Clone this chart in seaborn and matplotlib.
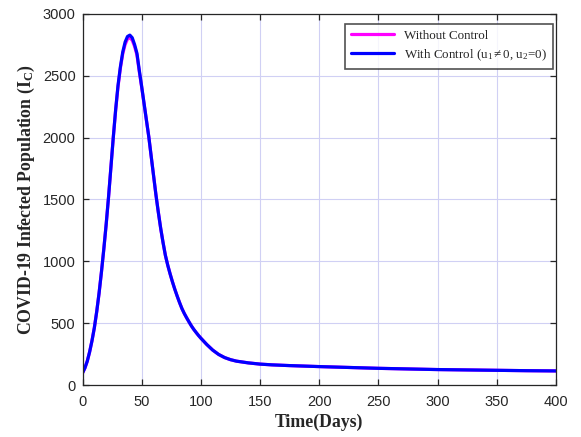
import matplotlib
matplotlib.use("Agg")
import matplotlib.pyplot as plt
import seaborn as sns
import pandas as pd

# data
days = [0, 2, 4, 6, 8, 10, 12, 14, 16, 18, 20, 22, 24, 26, 28, 30, 32, 34, 36, 38, 40,
        42, 44, 46, 48, 50, 52, 54, 56, 58, 60, 62, 64, 66, 68, 70, 72, 74, 76, 78, 80,
        82, 84, 86, 88, 90, 92, 94, 96, 98, 100, 105, 110, 115, 120, 125, 130, 140, 150,
        160, 175, 200, 225, 250, 275, 300, 325, 350, 375, 400]
with_control = [100, 140, 195, 270, 360, 465, 595, 745, 915, 1100, 1300, 1520, 1760, 2000, 2225, 2420, 2570, 2690, 2770, 2815, 2826,
                2805, 2750, 2679, 2540, 2410, 2275, 2140, 2006, 1850, 1695, 1540, 1400, 1270, 1155, 1050, 970, 900, 835, 775, 720,
                668, 620, 580, 545, 512, 480, 452, 427, 403, 381, 330, 285, 250, 225, 208, 196, 182, 172,
                166, 160, 152, 145, 138, 133, 128, 125, 122, 119, 117]
without_control = [100, 140, 195, 270, 360, 465, 595, 745, 915, 1100, 1300, 1520, 1760, 2000, 2220, 2410, 2560, 2675, 2750, 2795, 2805,
                   2785, 2735, 2665, 2530, 2405, 2272, 2138, 2005, 1850, 1695, 1540, 1400, 1270, 1155, 1050, 970, 900, 835, 775, 720,
                   668, 620, 580, 545, 512, 480, 452, 427, 403, 381, 330, 285, 250, 225, 208, 196, 182, 172,
                   166, 160, 152, 145, 138, 133, 128, 125, 122, 119, 117]
series_names = ["Without Control", r"With Control (u$_1$$\neq$0, u$_2$=0)"]
x_ticks = [0, 50, 100, 150, 200, 250, 300, 350, 400]
y_ticks = [0, 500, 1000, 1500, 2000, 2500, 3000]

sns.set_style("ticks")
plt.rcParams.update({
    "font.family": ["Liberation Sans", "DejaVu Sans"],
    "mathtext.fontset": "custom",
    "mathtext.rm": "Liberation Serif",
    "mathtext.it": "Liberation Serif:italic",
    "mathtext.bf": "Liberation Serif:bold",
    "xtick.direction": "in",
    "ytick.direction": "in",
})

df = pd.concat([
    pd.DataFrame({"Days": days, "Ic": without_control, "Case": series_names[0]}),
    pd.DataFrame({"Days": days, "Ic": with_control, "Case": series_names[1]}),
])

fig = plt.figure(figsize=(5.81, 4.37), dpi=100)
ax = fig.add_axes([0.142, 0.118, 0.815, 0.851])

sns.lineplot(data=df, x="Days", y="Ic", hue="Case",
             palette={series_names[0]: "#ff00ff", series_names[1]: "#0000ff"},
             linewidth=2.3, ax=ax, sort=False, estimator=None)

ax.set_xlim(0, 400)
ax.set_ylim(0, 3000)
ax.set_xticks(x_ticks)
ax.set_yticks(y_ticks)
ax.tick_params(axis="both", labelsize=10.5, length=4, width=0.9, color="#262626",
               top=True, right=True, labelcolor="#262626")
ax.tick_params(axis="x", pad=7)
ax.tick_params(axis="y", pad=5)
ax.grid(True, color="#d0d0f4", linewidth=0.8)
for s in ax.spines.values():
    s.set_visible(True)
    s.set_color("#262626")
    s.set_linewidth(0.9)

ax.set_xlabel("Time(Days)", family="Liberation Serif", fontweight="bold", fontsize=12.8, labelpad=3)
ax.set_ylabel(r"COVID-19 Infected Population (I$_\mathbf{C}$)", family="Liberation Serif",
              fontweight="bold", fontsize=12.8, labelpad=4)

leg = ax.legend(loc="upper right", bbox_to_anchor=(0.9937, 0.972), borderaxespad=0,
                prop={"family": "Liberation Serif", "size": 9.4},
                frameon=True, fancybox=False, edgecolor="#262626", handlelength=3.3,
                labelspacing=0.4, borderpad=0.45)
leg.get_frame().set_linewidth(1.2)

fig.savefig("out.png", dpi=100)
